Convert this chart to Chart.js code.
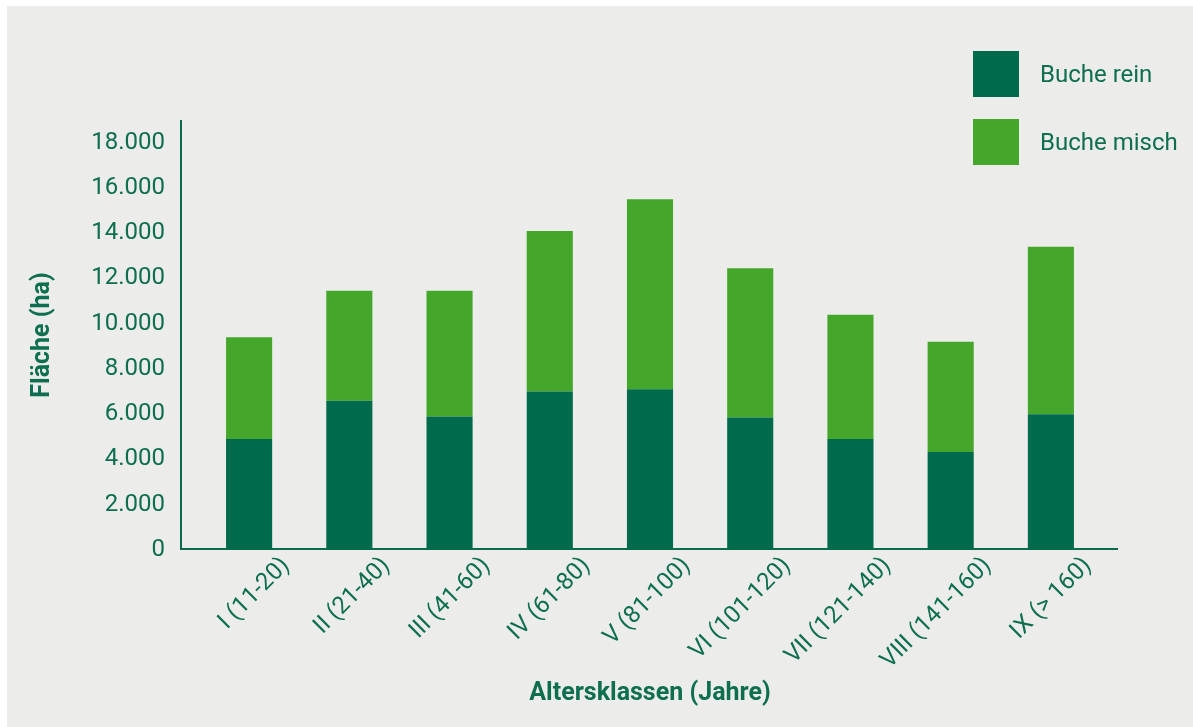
<!DOCTYPE html>
<html lang="de">
<head>
<meta charset="utf-8">
<script src="https://cdn.jsdelivr.net/npm/chart.js@4.4.1/dist/chart.umd.min.js"></script>
<style>
  html, body { margin: 0; padding: 0; background: #ffffff; width: 1193px; height: 727px; overflow: hidden; }
  #panel { position: absolute; left: 7px; top: 6px; width: 1186px; height: 721px; background: #ecedea; }
  #chart { position: absolute; left: 0; top: 0; }
  .legend { position: absolute; left: 966px; top: 45px; font-family: Roboto, "Noto Sans", sans-serif; font-size: 24px; color: #0d6e50; }
  .legend .item { display: flex; align-items: center; height: 46px; margin-bottom: 22px; }
  .legend .sw { width: 46px; height: 46px; margin-right: 21px; }
</style>
</head>
<body>
<div id="panel">
  <canvas id="chart" width="1186" height="721"></canvas>
  <div class="legend" id="legend"></div>
</div>
<script>
const categories = ["I (11-20)", "II (21-40)", "III (41-60)", "IV (61-80)", "V (81-100)", "VI (101-120)", "VII (121-140)", "VIII (141-160)", "IX (> 160)"];
const bucheRein  = [4900, 6600, 5900, 7000, 7100, 5850, 4900, 4330, 6000];
const bucheMisch = [4500, 4850, 5550, 7100, 8400, 6600, 5500, 4870, 7400];
const seriesNames = ["Buche rein", "Buche misch"];
const seriesColors = ["#006a4c", "#44a62a"];
const yTicks = [0, 2000, 4000, 6000, 8000, 10000, 12000, 14000, 16000, 18000];
const yMax = 19000;
const yTitle = "Fläche (ha)";
const xTitle = "Altersklassen (Jahre)";

const textColor = "#0d6e50";
const axisColor = "#0a6b4d";
const fontFamily = "Roboto, 'Noto Sans', sans-serif";

function formatDe(v) {
  return String(v).replace(/\B(?=(\d{3})+(?!\d))/g, '.');
}

const axisPlugin = {
  id: 'axisLines',
  beforeDatasetsDraw(chart) {
    const ctx = chart.ctx;
    const a = chart.chartArea;
    const ext = 18;
    ctx.save();
    ctx.strokeStyle = axisColor;
    ctx.lineWidth = 2;
    ctx.beginPath();
    ctx.moveTo(a.left - ext, a.top);
    ctx.lineTo(a.left - ext, a.bottom - 1);
    ctx.lineTo(a.right + ext - 1, a.bottom - 1);
    ctx.stroke();
    ctx.restore();
  }
};

const chart = new Chart(document.getElementById('chart'), {
  type: 'bar',
  data: {
    labels: categories,
    datasets: [
      { label: seriesNames[0], data: bucheRein, backgroundColor: seriesColors[0], borderWidth: 0 },
      { label: seriesNames[1], data: bucheMisch, backgroundColor: seriesColors[1], borderWidth: 0 }
    ]
  },
  options: {
    responsive: false,
    animation: false,
    devicePixelRatio: 1,
    layout: { padding: { left: 0, right: 92, top: 114, bottom: 0 } },
    plugins: { legend: { display: false }, tooltip: { enabled: false } },
    datasets: { bar: { barPercentage: 0.46, categoryPercentage: 1.0 } },
    scales: {
      x: {
        stacked: true,
        offset: true,
        grid: { display: false, drawTicks: false },
        border: { display: false },
        ticks: {
          autoSkip: false, minRotation: 45, maxRotation: 45,
          color: textColor, font: { family: fontFamily, size: 24 },
          padding: 2, labelOffset: 37
        },
        title: {
          display: true, text: xTitle, color: textColor,
          font: { family: fontFamily, size: 25, weight: 'bold' },
          padding: { top: 18, bottom: 18 }
        },
        afterFit(scale) { scale.height = 177; }
      },
      y: {
        stacked: true,
        min: 0, max: yMax,
        grid: { display: false, drawTicks: false },
        border: { display: false },
        afterBuildTicks(scale) { scale.ticks = yTicks.map(v => ({ value: v })); },
        ticks: {
          autoSkip: false,
          color: textColor, font: { family: fontFamily, size: 24 }, padding: 34,
          callback: (v) => formatDe(v)
        },
        title: {
          display: true, text: yTitle, color: textColor,
          font: { family: fontFamily, size: 25, weight: 'bold' },
          padding: { top: 21, bottom: 21 }
        },
        afterFit(scale) { scale.width = 192; }
      }
    }
  },
  plugins: [axisPlugin]
});

const legend = document.getElementById('legend');
seriesNames.forEach((name, i) => {
  const item = document.createElement('div');
  item.className = 'item';
  const sw = document.createElement('div');
  sw.className = 'sw';
  sw.style.background = seriesColors[i];
  const t = document.createElement('span');
  t.textContent = name;
  item.appendChild(sw); item.appendChild(t);
  legend.appendChild(item);
});
</script>
</body>
</html>
